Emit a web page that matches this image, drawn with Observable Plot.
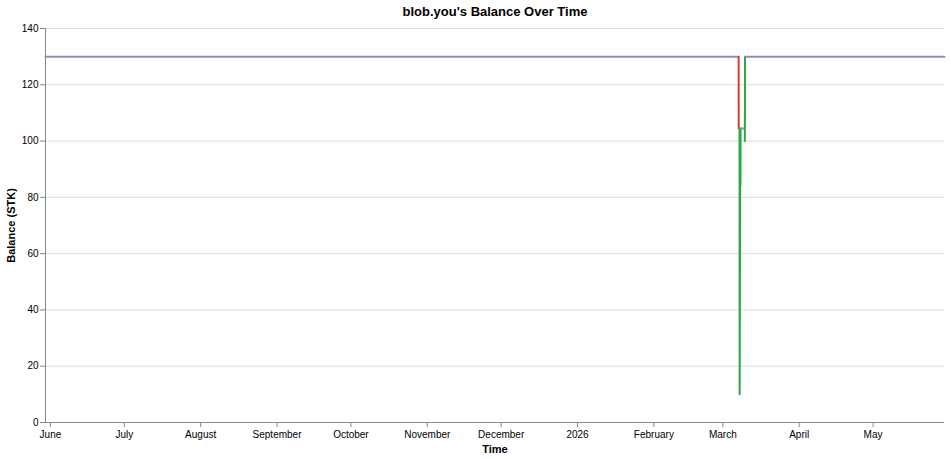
<!DOCTYPE html>
<html>
<head>
<meta charset="utf-8">
<script src="https://cdn.jsdelivr.net/npm/d3@7"></script>
<script src="https://cdn.jsdelivr.net/npm/@observablehq/plot@0.6"></script>
<style>
  html, body { margin: 0; padding: 0; background: #fff; }
  #chart { width: 951px; height: 459px; }
  svg { font-family: "Liberation Sans", Arial, sans-serif; }
</style>
</head>
<body>
<div id="chart"></div>
<script>
// Balance history (each run is a separately connected line, coloured by kind)
const times = [
  "2025-05-30T00:00Z", "2026-03-07T08:00Z",
  "2026-03-07T10:00Z", "2026-03-07T11:00Z",
  "2026-03-07T19:00Z", "2026-03-07T20:00Z", "2026-03-08T02:00Z", "2026-03-08T04:00Z", "2026-03-08T05:00Z",
  "2026-03-08T06:00Z", "2026-03-09T16:00Z",
  "2026-03-09T22:00Z", "2026-03-09T23:00Z", "2026-03-09T23:30Z", "2026-03-10T00:00Z",
  "2026-03-10T03:00Z", "2026-05-30T00:00Z"
];
const balances = [
  130, 130,
  130, 104.5,
  104.5, 10, 104.5, 84, 104.5,
  104.5, 104.5,
  100, 110, 107, 130,
  130, 130
];
const kinds = [
  "none", "none",
  "out", "out",
  "in", "in", "in", "in", "in",
  "none", "none",
  "in", "in", "in", "in",
  "none", "none"
];
const runs = [0, 0, 1, 1, 2, 2, 2, 2, 2, 3, 3, 4, 4, 4, 4, 5, 5];

const yTicks = [0, 20, 40, 60, 80, 100, 120, 140];
const kindNames = ["none", "out", "in"];
const kindColors = ["#8894a4", "#d93a32", "#2aa844"];

const data = times.map((t, i) => ({
  time: new Date(t), balance: balances[i], kind: kinds[i], run: runs[i]
}));

const monthFmt = d3.utcFormat("%B");
const xFmt = d => d.getUTCMonth() === 0 ? String(d.getUTCFullYear()) : monthFmt(d);
const xStart = new Date("2025-05-30T00:00Z"), xEnd = new Date("2026-05-30T00:00Z");

const chart = Plot.plot({
  width: 951,
  height: 459,
  marginTop: 28,
  marginBottom: 37,
  marginLeft: 45,
  marginRight: 7,
  style: { fontFamily: "Liberation Sans, Arial, sans-serif", fontSize: "10px", color: "#000" },
  x: { type: "utc", domain: [xStart, xEnd] },
  y: { domain: [0, 140] },
  color: { domain: kindNames, range: kindColors },
  marks: [
    Plot.gridY(yTicks, { stroke: "#ddd", strokeOpacity: 1 }),
    Plot.ruleX([xStart], { stroke: "#888", strokeWidth: 1 }),
    Plot.ruleY([0], { stroke: "#888", strokeWidth: 1 }),
    Plot.axisY(yTicks, {
      tickSize: 5, tickPadding: 2, stroke: "#888", fill: "#000",
      label: "Balance (STK)", labelAnchor: "center", labelOffset: 38, labelArrow: "none"
    }),
    Plot.axisX({
      ticks: d3.utcMonth.every(1), tickFormat: xFmt,
      tickSize: 5, tickPadding: 3, stroke: "#888", fill: "#000",
      label: "Time", labelAnchor: "center", labelOffset: 30, labelArrow: "none"
    }),
    Plot.line(data, { x: "time", y: "balance", z: "run", stroke: "kind", strokeWidth: 2, curve: "linear" }),
    Plot.text(["blob.you's Balance Over Time"], {
      frameAnchor: "top", dy: -22, fontSize: 13, fontWeight: "bold", fill: "#000"
    })
  ]
});
chart.querySelectorAll('[aria-label="y-axis label"] text, [aria-label="x-axis label"] text').forEach(t => {
  t.style.fontWeight = "bold"; t.style.fontSize = "11px";
});
document.getElementById("chart").appendChild(chart);
</script>
</body>
</html>
